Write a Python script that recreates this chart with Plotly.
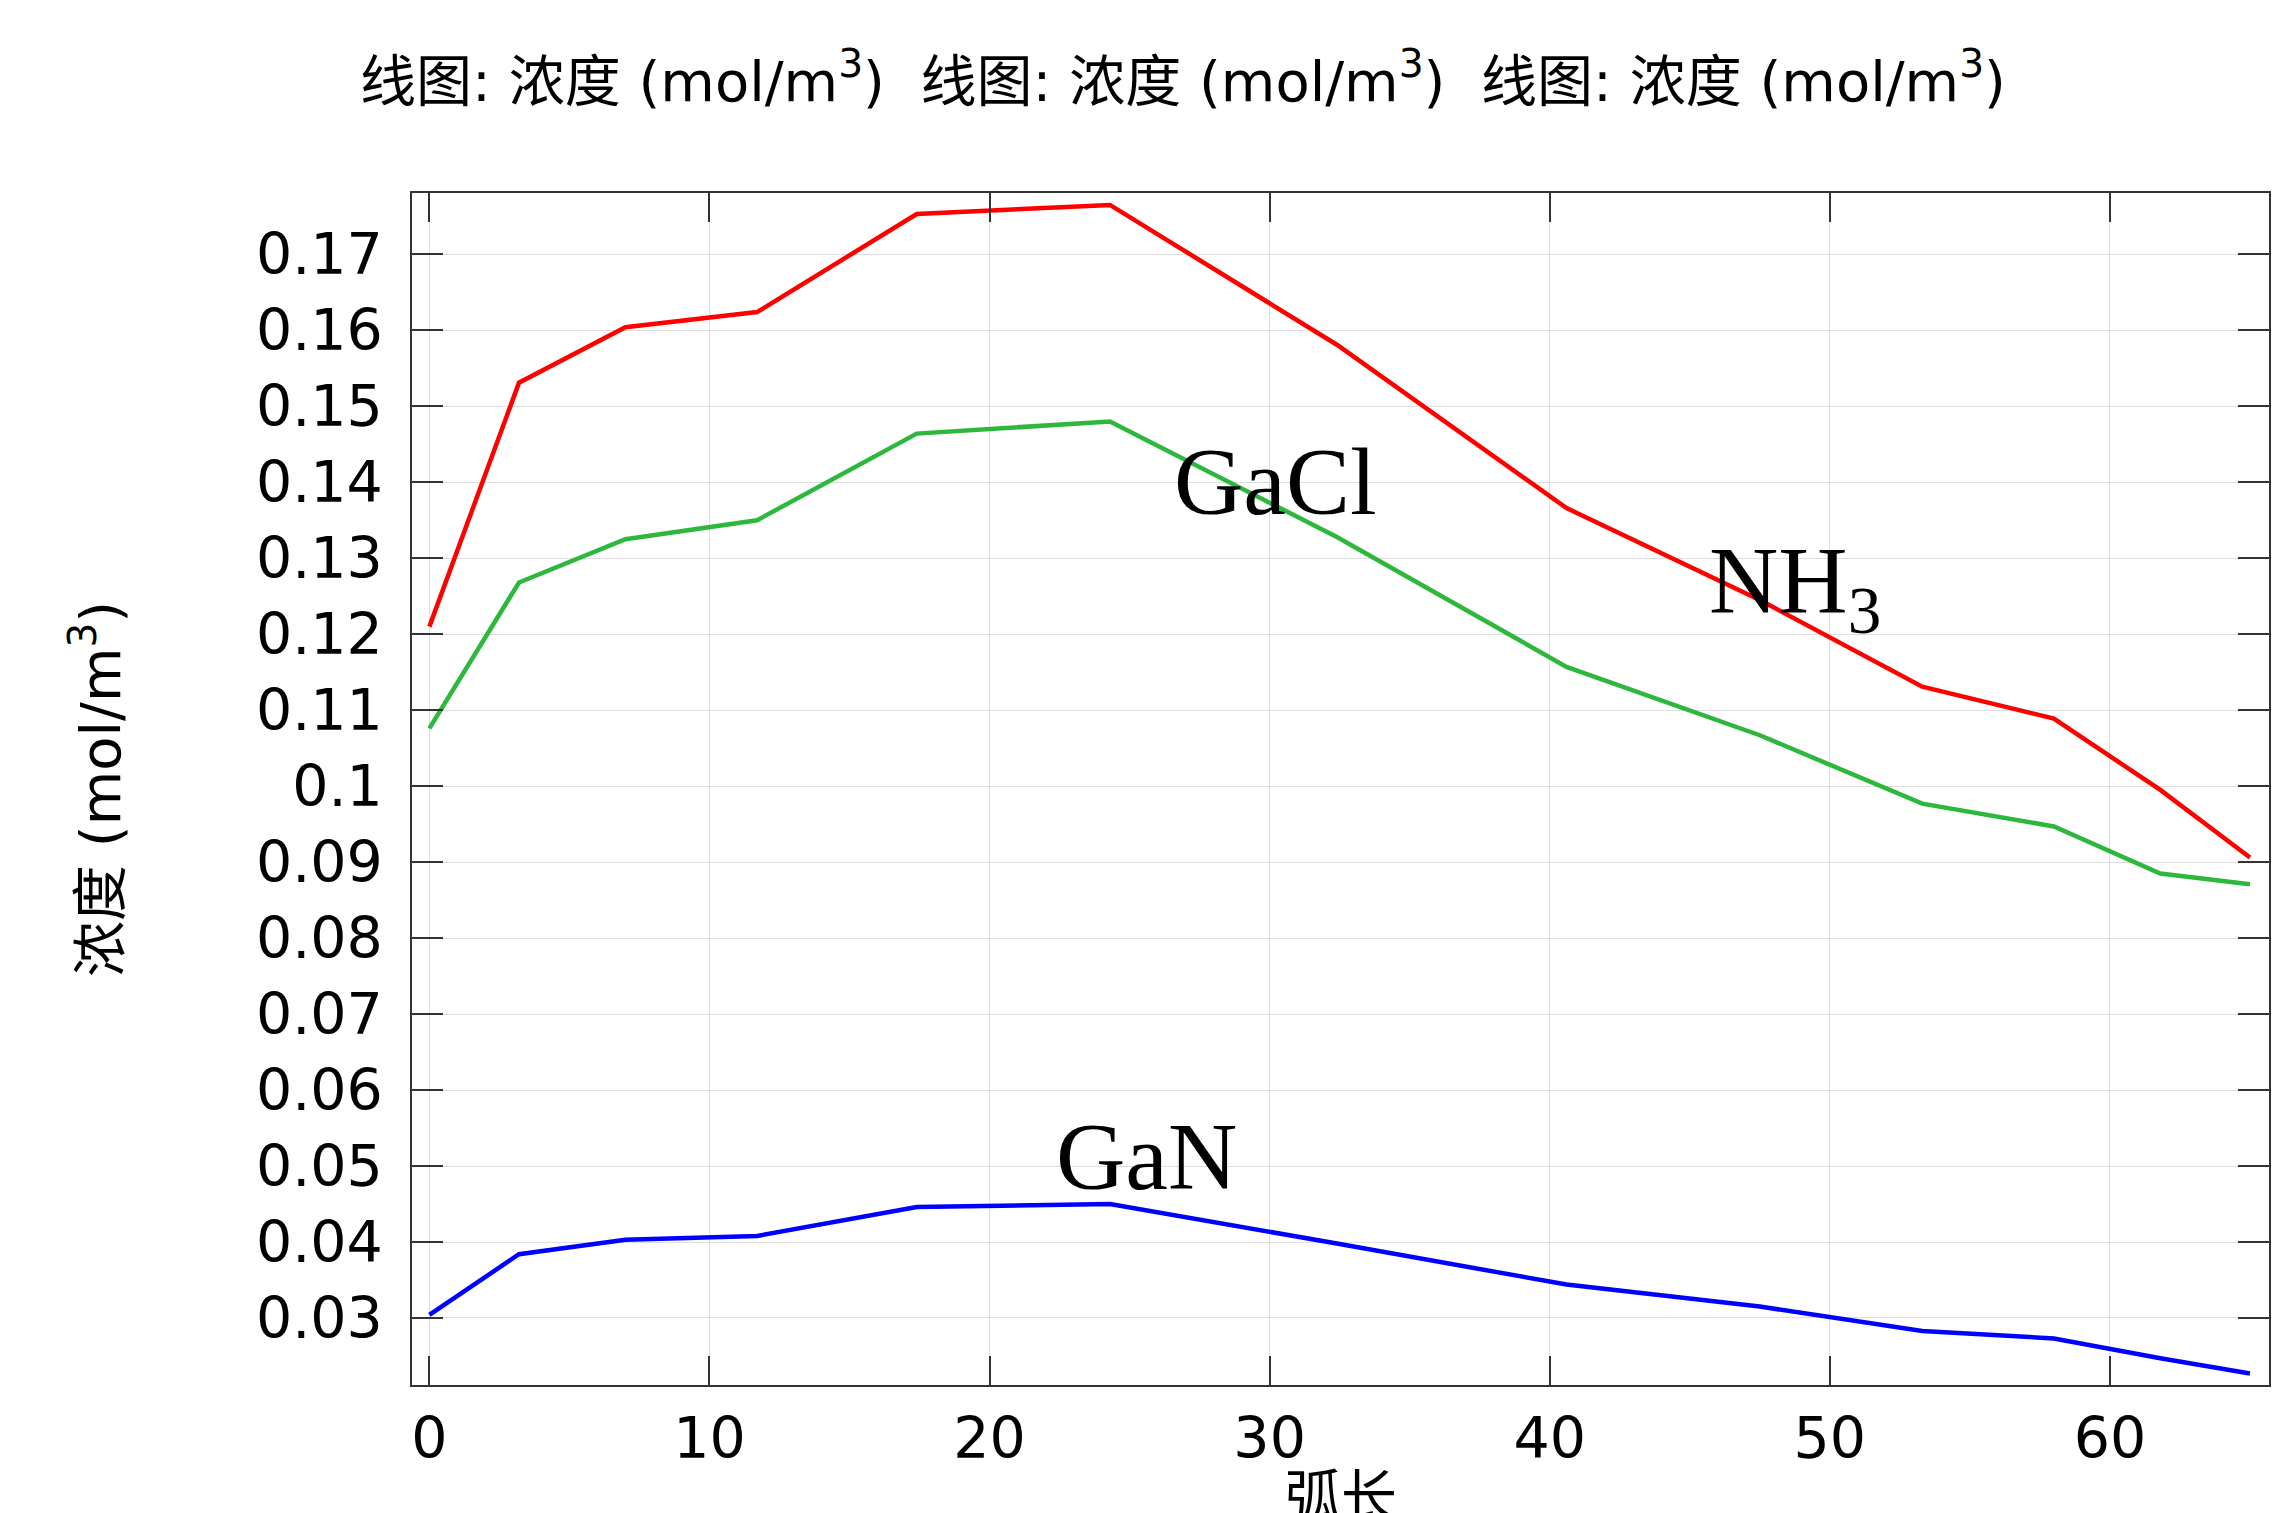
import plotly.graph_objects as go

# ---- data ----
arc_length = [0, 3.2, 7.0, 11.7, 17.4, 24.3, 32.4, 40.6, 47.5, 53.3, 58.0, 61.8, 65.0]
nh3 = [0.1210, 0.1531, 0.1604, 0.1624, 0.1753, 0.1765, 0.1581, 0.1366, 0.1245, 0.1131, 0.1089, 0.0995, 0.0906]
gacl = [0.1076, 0.1268, 0.1325, 0.1350, 0.1464, 0.1480, 0.1328, 0.1157, 0.1067, 0.0977, 0.0947, 0.0885, 0.0871]
gan = [0.0304, 0.0384, 0.0403, 0.0408, 0.0446, 0.0450, 0.0398, 0.0344, 0.0315, 0.0283, 0.0273, 0.0247, 0.0227]

x_tick_vals = [0, 10, 20, 30, 40, 50, 60]
x_tick_text = ["0", "10", "20", "30", "40", "50", "60"]
y_tick_vals = [0.03, 0.04, 0.05, 0.06, 0.07, 0.08, 0.09, 0.10, 0.11, 0.12, 0.13, 0.14, 0.15, 0.16, 0.17]
y_tick_text = ["0.03", "0.04", "0.05", "0.06", "0.07", "0.08", "0.09", "0.1",
               "0.11", "0.12", "0.13", "0.14", "0.15", "0.16", "0.17"]

title_text = "线图: 浓度 (mol/m<sup>3</sup>)  线图: 浓度 (mol/m<sup>3</sup>)  线图: 浓度 (mol/m<sup>3</sup>)"
y_title = "浓度 (mol/m<sup>3</sup>)"
x_title = "弧长"

SANS = "DejaVu Sans, Noto Sans CJK SC, sans-serif"
SERIF = "Liberation Serif, Times New Roman, serif"

W, H = 2276, 1505  # page body has an 8px margin

fig = go.Figure()
fig.add_trace(go.Scatter(x=arc_length, y=nh3, mode="lines", line=dict(color="#ff0000", width=4.5), name="NH3"))
fig.add_trace(go.Scatter(x=arc_length, y=gacl, mode="lines", line=dict(color="#2db83d", width=4.5), name="GaCl"))
fig.add_trace(go.Scatter(x=arc_length, y=gan, mode="lines", line=dict(color="#0000ff", width=4.5), name="GaN"))

axis_common = dict(
    showline=True, linecolor="#333333", linewidth=1.5, mirror="ticks",
    ticks="inside", tickcolor="#333333", tickwidth=1.5,
    showgrid=True, gridcolor="#dedede", gridwidth=1.2, zeroline=False,
    tickfont=dict(family=SANS, size=57, color="#000000"),
)

fig.update_layout(
    width=W, height=H,
    paper_bgcolor="white", plot_bgcolor="white",
    margin=dict(l=404, r=15, t=185, b=128),
    showlegend=False,
    title=dict(text=title_text, x=1175 / W, xref="container", xanchor="center",
               y=1 - 73 / H, yref="container", yanchor="middle",
               font=dict(family=SANS, size=56, color="#000000")),
    xaxis=dict(range=[-0.62, 65.68], tickvals=x_tick_vals, ticktext=x_tick_text,
               ticklen=29, ticklabelstandoff=3, **axis_common),
    yaxis=dict(range=[0.02118, 0.17807], tickvals=y_tick_vals, ticktext=y_tick_text,
               ticklen=31, ticklabelstandoff=16, **axis_common),
)

fig.add_annotation(text=y_title, xref="paper", yref="paper", x=(96 - 412) / 1857, y=0.5,
                   xanchor="center", yanchor="middle", textangle=-90, showarrow=False,
                   font=dict(family=SANS, size=56, color="#000000"))
fig.add_annotation(text=x_title, xref="paper", yref="paper", x=0.5, y=(1385 - 1462) / 1192,
                   xanchor="center", yanchor="top", showarrow=False,
                   font=dict(family=SANS, size=56, color="#000000"))

label_font = dict(family=SERIF, size=96, color="#000000")
fig.add_annotation(text="GaCl", x=30.2, y=0.1401, xref="x", yref="y", xanchor="center",
                   yanchor="middle", showarrow=False, font=label_font)
fig.add_annotation(text="NH<sub>3</sub>", x=45.6, y=0.1262, xref="x", yref="y", xanchor="left",
                   yanchor="middle", showarrow=False, font=label_font)
fig.add_annotation(text="GaN", x=25.6, y=0.0512, xref="x", yref="y", xanchor="center",
                   yanchor="middle", showarrow=False, font=label_font)

fig.write_html("out.html")
